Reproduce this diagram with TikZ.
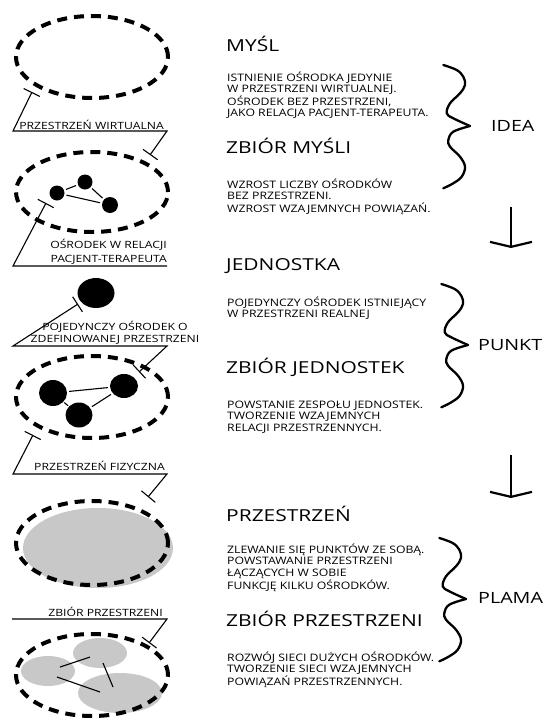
\documentclass[tikz,border=0pt]{standalone}
\usepackage{fontspec}
\setmainfont{Open Sans}[FakeStretch=1.22]
\newfontfamily\bodyfont{Open Sans}[FakeStretch=1.19]
\newfontfamily\titlefont{Open Sans}[FakeStretch=1.27]
\usetikzlibrary{arrows.meta,shapes.geometric}
\definecolor{blobgray}{RGB}{200,200,200}
\tikzset{
 dashell/.style={draw, ellipse, line width=4pt, dash pattern=on 10pt off 7pt, inner sep=0pt},
 dotn/.style={fill=black, ellipse, inner sep=0pt},
 blob/.style={fill=blobgray, ellipse, inner sep=0pt},
 link/.style={line width=1.1pt, shorten <=2pt, shorten >=2pt},
 callout/.style={line width=1.1pt},
 title/.style={anchor=base west, inner sep=0pt, font=\titlefont\fontsize{16.5}{20}\selectfont},
 sidetitle/.style={anchor=base west, inner sep=0pt, font=\titlefont\fontsize{15.5}{20}\selectfont},
 body/.style={anchor=base west, inner sep=0pt, font=\bodyfont\fontsize{10.3}{11.3}\selectfont},
 lab/.style={inner sep=0pt, font=\fontsize{10}{13.5}\selectfont},
 bracestroke/.style={line width=2.3pt, line join=round, line cap=round},
 downarrow/.style={line width=2.6pt, -{Straight Barb[length=5pt,width=42pt,line width=2.2pt]}},
 wbrace/.pic={
  \draw[bracestroke] plot[smooth, tension=0.6] coordinates {(-26.7,-61) (-13.3,-56) (-6.7,-49.3) (-5,-41) (-10,-32.7) (-20,-22.7) (-23.3,-12.7) (-16.7,-7.7) (0,0)};
  \draw[bracestroke] plot[smooth, tension=0.6] coordinates {(0,0) (-16.7,5.7) (-21.7,14) (-20,20.7) (-10,30.7) (-5,40.7) (-8.3,50.7) (-16.7,57.3) (-26.7,62.3)};
 }
}
\begin{document}
\begin{tikzpicture}[x=1pt,y=-1pt]
\useasboundingbox (0,0) rectangle (550,718);
\fill[white] (0,0) rectangle (550,718);

% ---------- left column: shapes ----------
\node[dashell, minimum width=152pt, minimum height=82pt] (e1) at (92,57) {};

\node[dotn, minimum width=15pt, minimum height=15pt] (d21) at (57,193) {};
\node[dotn, minimum width=15pt, minimum height=15pt] (d22) at (85,182) {};
\node[dotn, minimum width=16pt, minimum height=16pt] (d23) at (110,205) {};
\draw[link] (d21) -- (d22);
\draw[link] (d22) -- (d23);
\draw[link] (d21) -- (d23);
\node[dashell, minimum width=152pt, minimum height=80pt] (e2) at (92,192) {};

\node[dotn, minimum width=37pt, minimum height=30pt] (big) at (96,293) {};

\node[dotn, minimum width=28pt, minimum height=26pt] (d31) at (53,393) {};
\node[dotn, minimum width=27pt, minimum height=25pt] (d32) at (79,415) {};
\node[dotn, minimum width=28pt, minimum height=24pt] (d33) at (124,386) {};
\draw[link, shorten <=1pt, shorten >=1pt] (d31) -- (d32);
\draw[link] (d32) -- (d33);
\draw[link] (d31) -- (d33);
\node[dashell, minimum width=152pt, minimum height=82pt] (e3) at (92,397) {};

\node[blob, minimum width=150pt, minimum height=80pt] (g4) at (98,548) {};
\node[dashell, minimum width=152pt, minimum height=84pt] (e4) at (92,543) {};

\node[blob, minimum width=54pt, minimum height=30pt] (b1) at (48,671) {};
\node[blob, minimum width=54pt, minimum height=30pt] (b2) at (100,653) {};
\node[blob, minimum width=84pt, minimum height=40pt] (b3) at (120,693) {};
\coordinate (l1a) at (60,667); \coordinate (l1b) at (90,657);
\coordinate (l2a) at (103,663); \coordinate (l2b) at (113,687);
\coordinate (l3a) at (57,677); \coordinate (l3b) at (100,692);
\draw[line width=1.1pt] (l1a) -- (l1b);
\draw[line width=1.1pt] (l2a) -- (l2b);
\draw[line width=1.1pt] (l3a) -- (l3b);
\node[dashell, minimum width=152pt, minimum height=82pt] (e5) at (92,675) {};

% ---------- left column: callouts ----------
\node[lab, anchor=base east] (lw) at (164,129.6) {PRZESTRZEŃ WIRTUALNA};
\coordinate (c1a) at (32,92); \coordinate (c1b) at (13,131);
\coordinate (c1c) at (167,131); \coordinate (c1d) at (150,155);
\draw[callout, {Bar[width=18pt]}-{Bar[width=18pt]}] (c1a) -- (c1b) -- (c1c) -- (c1d);

\node[lab, anchor=base east] (lo) at (167,248.6) {\begin{tabular}[t]{@{}r@{}}OŚRODEK W RELACJI\\PACJENT-TERAPEUTA\end{tabular}};
\coordinate (c2a) at (46,203); \coordinate (c2b) at (13,266); \coordinate (c2c) at (167,266);
\draw[callout, {Bar[width=18pt]}-] (c2a) -- (c2b) -- (c2c);

\node[lab, anchor=base, font=\fontsize{10}{12.3}\selectfont] (lp) at (115,330.6) {\begin{tabular}[t]{@{}c@{}}POJEDYNCZY OŚRODEK O\\ZDEFINOWANEJ PRZESTRZENI\end{tabular}};
\coordinate (c3a) at (78,304); \coordinate (c3b) at (13,346);
\coordinate (c3c) at (167,346); \coordinate (c3d) at (139,372);
\draw[callout, {Bar[width=18pt]}-{Bar[width=18pt]}] (c3a) -- (c3b) -- (c3c) -- (c3d);

\node[lab, anchor=base east] (lf) at (165,470.6) {PRZESTRZEŃ FIZYCZNA};
\coordinate (c4a) at (33,435); \coordinate (c4b) at (13,474);
\coordinate (c4c) at (167,474); \coordinate (c4d) at (148,497);
\draw[callout, {Bar[width=18pt]}-{Bar[width=18pt]}] (c4a) -- (c4b) -- (c4c) -- (c4d);

\node[lab, anchor=base east] (lz) at (163,616.6) {ZBIÓR PRZESTRZENI};
\coordinate (c5a) at (12,619); \coordinate (c5b) at (167,619); \coordinate (c5c) at (149,643);
\draw[callout, -{Bar[width=18pt]}] (c5a) -- (c5b) -- (c5c);

% ---------- middle column: texts ----------
\node[title] (t1) at (226,51) {MYŚL};
\node[body] (x1) at (227,81.4) {\begin{tabular}[t]{@{}l@{}}ISTNIENIE OŚRODKA JEDYNIE\\W PRZESTRZENI WIRTUALNEJ.\\OŚRODEK BEZ PRZESTRZENI,\\JAKO RELACJA PACJENT-TERAPEUTA.\end{tabular}};
\node[title] (t2) at (226,153) {ZBIÓR MYŚLI};
\node[body] (x2) at (227,188.6) {\begin{tabular}[t]{@{}l@{}}WZROST LICZBY OŚRODKÓW\\BEZ PRZESTRZENI.\\WZROST WZAJEMNYCH POWIĄZAŃ.\end{tabular}};

\node[title] (t3) at (226,270) {JEDNOSTKA};
\node[body] (x3) at (227,306.6) {\begin{tabular}[t]{@{}l@{}}POJEDYNCZY OŚRODEK ISTNIEJĄCY\\W PRZESTRZENI REALNEJ\end{tabular}};
\node[title] (t4) at (226,373) {ZBIÓR JEDNOSTEK};
\node[body] (x4) at (227,408.6) {\begin{tabular}[t]{@{}l@{}}POWSTANIE ZESPOŁU JEDNOSTEK.\\TWORZENIE WZAJEMNYCH\\RELACJI PRZESTRZENNYCH.\end{tabular}};

\node[title] (t5) at (226,521) {PRZESTRZEŃ};
\node[body] (x5) at (227,553.6) {\begin{tabular}[t]{@{}l@{}}ZLEWANIE SIĘ PUNKTÓW ZE SOBĄ.\\POWSTAWANIE PRZESTRZENI\\ŁĄCZĄCYCH W SOBIE\\FUNKCJĘ KILKU OŚRODKÓW.\end{tabular}};
\node[title] (t6) at (226,626) {ZBIÓR PRZESTRZENI};
\node[body] (x6) at (227,661.6) {\begin{tabular}[t]{@{}l@{}}ROZWÓJ SIECI DUŻYCH OŚRODKÓW.\\TWORZENIE SIECI WZAJEMNYCH\\POWIĄZAŃ PRZESTRZENNYCH.\end{tabular}};

% ---------- right column: braces, labels, arrows ----------
\pic at (470,126) {wbrace};
\node[sidetitle] (idea) at (491,131.5) {IDEA};
\pic at (468,345) {wbrace};
\node[sidetitle] (punkt) at (478,350.5) {PUNKT};
\pic at (466,599) {wbrace};
\node[sidetitle] (plama) at (478,603.5) {PLAMA};

\coordinate (a1s) at (511,207); \coordinate (a1e) at (511,248);
\draw[downarrow] (a1s) -- (a1e);
\coordinate (a2s) at (511,455); \coordinate (a2e) at (511,498);
\draw[downarrow] (a2s) -- (a2e);
\end{tikzpicture}
\end{document}
